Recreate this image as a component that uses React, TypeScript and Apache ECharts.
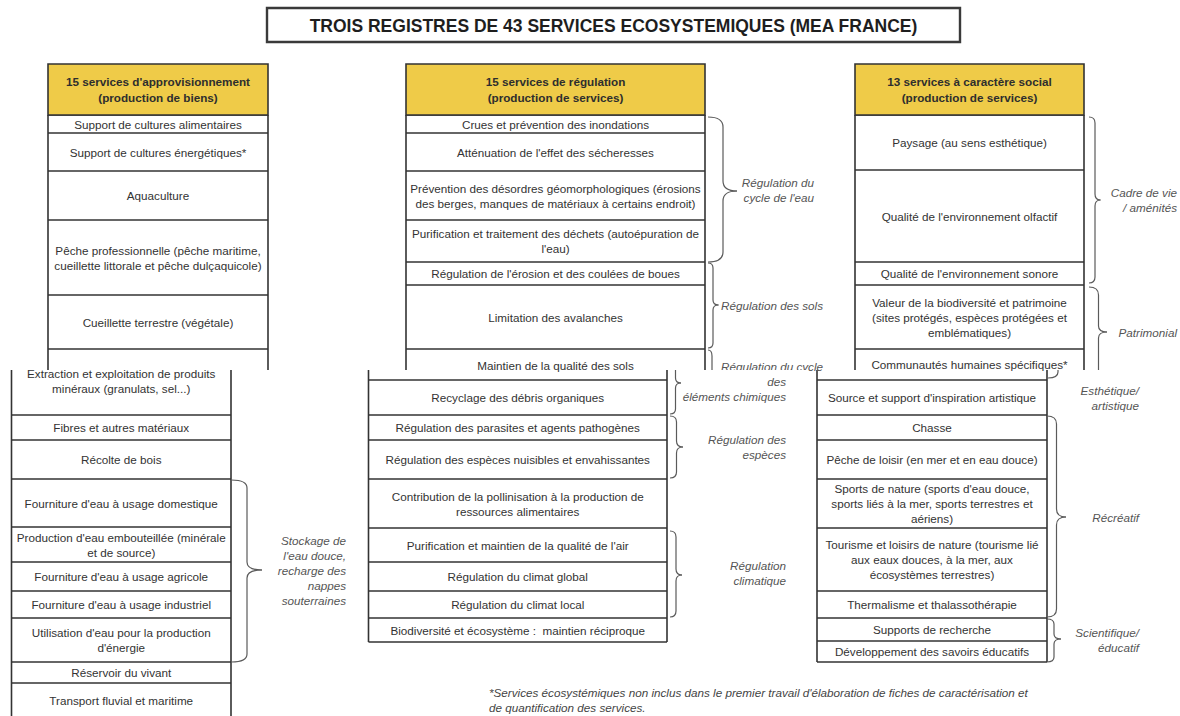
import React, { useEffect, useRef } from "react";
import * as echarts from "echarts";

// ---------- DATA (texts) ----------
const TITLE = "TROIS REGISTRES DE 43 SERVICES ECOSYSTEMIQUES (MEA FRANCE)";
const HEADERS = [
  "15 services d'approvisionnement\n(production de biens)",
  "15 services de régulation\n(production de services)",
  "13 services à caractère social\n(production de services)",
];
const APPRO_TOP = [
  "Support de cultures alimentaires",
  "Support de cultures énergétiques*",
  "Aquaculture",
  "Pêche professionnelle (pêche maritime,\ncueillette littorale et pêche dulçaquicole)",
  "Cueillette terrestre (végétale)",
  "",
];
const REGUL_TOP = [
  "Crues et prévention des inondations",
  "Atténuation de l'effet des sécheresses",
  "Prévention des désordres géomorphologiques (érosions\ndes berges, manques de matériaux à certains endroit)",
  "Purification et traitement des déchets (autoépuration de\nl'eau)",
  "Régulation de l'érosion et des coulées de boues",
  "Limitation des avalanches",
  "Maintien de la qualité des sols",
];
const SOCIAL_TOP = [
  "Paysage (au sens esthétique)",
  "Qualité de l'environnement olfactif",
  "Qualité de l'environnement sonore",
  "Valeur de la biodiversité et patrimoine\n(sites protégés, espèces protégées et\nemblématiques)",
  "Communautés humaines spécifiques*",
];
const APPRO_BOTTOM = [
  "Extraction et exploitation de produits\nminéraux (granulats, sel...)",
  "Fibres et autres matériaux",
  "Récolte de bois",
  "Fourniture d'eau à usage domestique",
  "Production d'eau embouteillée (minérale\net de source)",
  "Fourniture d'eau à usage agricole",
  "Fourniture d'eau à usage industriel",
  "Utilisation d'eau pour la production\nd'énergie",
  "Réservoir du vivant",
  "Transport fluvial et maritime",
];
const REGUL_BOTTOM = [
  "Recyclage des débris organiques",
  "Régulation des parasites et agents pathogènes",
  "Régulation des espèces nuisibles et envahissantes",
  "Contribution de la pollinisation à la production de\nressources alimentaires",
  "Purification et maintien de la qualité de l'air",
  "Régulation du climat global",
  "Régulation du climat local",
  "Biodiversité et écosystème :  maintien réciproque",
];
const SOCIAL_BOTTOM = [
  "Source et support d'inspiration artistique",
  "Chasse",
  "Pêche de loisir (en mer et en eau douce)",
  "Sports de nature (sports d'eau douce,\nsports liés à la mer, sports terrestres et\naériens)",
  "Tourisme et loisirs de nature (tourisme lié\naux eaux douces, à la mer, aux\nécosystèmes terrestres)",
  "Thermalisme et thalassothérapie",
  "Supports de recherche",
  "Développement des savoirs éducatifs",
];
const LABELS_TOP = {
  cycleEau: "Régulation du\ncycle de l'eau",
  sols: "Régulation des sols",
  cycleElem: "Régulation du cycle",
  cadre: "Cadre de vie\n/ aménités",
  patrimonial: "Patrimonial",
};
const LABELS_BOTTOM = {
  stockage: "Stockage de\nl'eau douce,\nrecharge des\nnappes\nsouterraines",
  elemDes: "des",
  elem: "éléments chimiques",
  especes: "Régulation des\nespèces",
  climat: "Régulation\nclimatique",
  esthetique: "Esthétique/\nartistique",
  recreatif: "Récréatif",
  scientifique: "Scientifique/\néducatif",
};
const FOOTNOTE =
  "*Services écosystémiques non inclus dans le premier travail d'élaboration de fiches de caractérisation et\nde quantification des services.";

// ---------- LAYOUT ----------
const FONT = '"Liberation Sans", Arial, Helvetica, sans-serif';
const FS = 11.7;
const CUT = 370;
const LINE = "#333333";
const BRACE = "#5a5a5a";
const YELLOW = "#EFCB48";
const TXT = "#333333";
const LAB = "#555555";

const L_TOP = {
  appro: { x0: 48, x1: 268, b: [115, 133, 171, 220, 295, 349, 392] },
  regul: { x0: 406, x1: 705, b: [115, 133, 171, 220, 262, 285, 349, 381] },
  social: { x0: 855, x1: 1084, b: [115, 170, 262, 285, 349, 380] },
};
const L_BOT = {
  appro: { x0: 11.5, x1: 231, b: [347, 415, 440, 479, 527, 562, 591, 618, 662, 683, 717], ext: 0 },
  regul: { x0: 368.5, x1: 667, b: [380, 415, 440, 479, 528, 562, 591, 618, 642], ext: 345 },
  social: { x0: 817, x1: 1047, b: [380, 415, 440, 479, 528, 591, 618, 641, 662], ext: 345 },
};

function ln(x1: number, y1: number, x2: number, y2: number, color = LINE, w = 1.6): any {
  return { type: "line", silent: true, shape: { x1, y1, x2, y2 }, style: { stroke: color, lineWidth: w } };
}

function txt(text: string, x: number, y: number, o: any = {}): any {
  const align = o.align || "center";
  return {
    type: "text",
    silent: true,
    style: {
      text,
      x,
      y,
      fill: o.fill || TXT,
      fontSize: o.size || FS,
      fontFamily: FONT,
      fontWeight: o.weight || "normal",
      fontStyle: o.style || "normal",
      lineHeight: o.lh || 15,
      align,
      textAlign: align,
      verticalAlign: "middle",
      textVerticalAlign: "middle",
    },
  };
}

function table(x0: number, x1: number, b: number[], texts: string[], opts: any = {}): any[] {
  const els: any[] = [];
  const cut = opts.cut ?? 10000;
  const top = opts.ext ? opts.ext : b[0];
  const bottom = Math.min(b[b.length - 1], cut);
  els.push({ type: "rect", silent: true, shape: { x: x0, y: top, width: x1 - x0, height: bottom - top }, style: { fill: "#ffffff" } });
  texts.forEach((t, i) => {
    if (!t) return;
    const cy = (b[i] + b[i + 1]) / 2;
    els.push(txt(t, (x0 + x1) / 2, cy));
  });
  b.forEach((y) => {
    if (y <= cut) els.push(ln(x0, y, x1, y));
  });
  els.push(ln(x0, top, x0, bottom));
  els.push(ln(x1, top, x1, bottom));
  return els;
}

function header(x0: number, x1: number, text: string): any[] {
  return [
    { type: "rect", silent: true, shape: { x: x0, y: 64, width: x1 - x0, height: 51 }, style: { fill: YELLOW, stroke: LINE, lineWidth: 1.6 } },
    txt(text, (x0 + x1) / 2, 89.5, { weight: "bold", lh: 16, fill: "#2e2e2e" }),
  ];
}

function bez(x1: number, y1: number, cx: number, cy: number, x2: number, y2: number): any {
  return { type: "bezierCurve", silent: true, shape: { x1, y1, cpx1: cx, cpy1: cy, x2, y2 }, style: { stroke: BRACE, lineWidth: 1.2, fill: "none" } };
}

// brace: x0 = curl ends, xm = spine, xt = tip; y0 top, ym tip, y1 bottom
function brace(x0: number, xm: number, xt: number, y0: number, ym: number, y1: number, r = 6): any[] {
  return [
    bez(x0, y0, xm, y0, xm, y0 + r),
    ln(xm, y0 + r, xm, ym - r, BRACE, 1.2),
    bez(xm, ym - r, xm, ym, xt, ym),
    bez(xt, ym, xm, ym, xm, ym + r),
    ln(xm, ym + r, xm, y1 - r, BRACE, 1.2),
    bez(xm, y1 - r, xm, y1, x0, y1),
  ];
}

function lab(text: string, x: number, y: number, align = "center"): any {
  return txt(text, x, y, { style: "italic", fill: LAB, align, lh: 15 });
}

function buildElements(): any[] {
  const els: any[] = [];
  // ----- bottom screenshot (drawn first, covered above CUT) -----
  els.push({ type: "rect", silent: true, shape: { x: 0, y: 0, width: 1180, height: 716 }, style: { fill: "#ffffff" } });
  els.push(...table(L_BOT.appro.x0, L_BOT.appro.x1, L_BOT.appro.b, APPRO_BOTTOM));
  els.push(...table(L_BOT.regul.x0, L_BOT.regul.x1, L_BOT.regul.b, REGUL_BOTTOM, { ext: L_BOT.regul.ext }));
  els.push(...table(L_BOT.social.x0, L_BOT.social.x1, L_BOT.social.b, SOCIAL_BOTTOM, { ext: L_BOT.social.ext }));

  els.push(...brace(231.5, 247, 262, 480, 570, 662, 8));
  els.push(lab(LABELS_BOTTOM.stockage, 346, 570, "right"));

  els.push(...brace(670, 675.5, 681, 360, 383, 414, 5));
  els.push(lab(LABELS_BOTTOM.elemDes, 786, 381, "right"));
  els.push(lab(LABELS_BOTTOM.elem, 786, 396, "right"));
  els.push(...brace(670, 676.5, 683, 416, 447, 478, 6));
  els.push(lab(LABELS_BOTTOM.especes, 786, 446.5, "right"));
  els.push(...brace(670, 676, 682, 531, 575, 617, 6));
  els.push(lab(LABELS_BOTTOM.climat, 786, 572.5, "right"));

  // end of the "Patrimonial" brace
  els.push(ln(1058, 360, 1058, 372, BRACE, 1.2));
  els.push(bez(1058, 372, 1058, 378, 1048, 378));
  els.push(lab(LABELS_BOTTOM.esthetique, 1139, 397.5, "right"));
  els.push(...brace(1047, 1056.5, 1066, 416, 517, 617, 8));
  els.push(lab(LABELS_BOTTOM.recreatif, 1139, 517, "right"));
  els.push(...brace(1047, 1054, 1061, 619, 639, 662, 5));
  els.push(lab(LABELS_BOTTOM.scientifique, 1139, 639.5, "right"));

  els.push({
    type: "text",
    silent: true,
    style: {
      text: FOOTNOTE,
      x: 489,
      y: 684.5,
      fill: "#444444",
      fontSize: FS,
      fontFamily: FONT,
      fontStyle: "italic",
      lineHeight: 15,
      align: "left",
      textAlign: "left",
      verticalAlign: "top",
      textVerticalAlign: "top",
    },
  });

  // ----- cover above the cut -----
  els.push({ type: "rect", silent: true, shape: { x: 0, y: 0, width: 1180, height: CUT }, style: { fill: "#ffffff" } });

  // ----- top screenshot -----
  els.push({ type: "rect", silent: true, shape: { x: 267, y: 8, width: 693, height: 34 }, style: { fill: "#ffffff", stroke: "#3a3a3a", lineWidth: 2.4 } });
  els.push(txt(TITLE, 613.5, 25.5, { weight: "bold", size: 17.5, fill: "#1e1e1e" }));

  els.push(...table(L_TOP.appro.x0, L_TOP.appro.x1, L_TOP.appro.b, APPRO_TOP, { cut: CUT }));
  els.push(...header(L_TOP.appro.x0, L_TOP.appro.x1, HEADERS[0]));
  els.push(...table(L_TOP.regul.x0, L_TOP.regul.x1, L_TOP.regul.b, REGUL_TOP, { cut: CUT }));
  els.push(...header(L_TOP.regul.x0, L_TOP.regul.x1, HEADERS[1]));
  els.push(...table(L_TOP.social.x0, L_TOP.social.x1, L_TOP.social.b, SOCIAL_TOP, { cut: CUT }));
  els.push(...header(L_TOP.social.x0, L_TOP.social.x1, HEADERS[2]));

  els.push(...brace(708, 723, 737, 117, 191, 262, 10));
  els.push(lab(LABELS_TOP.cycleEau, 814, 189.5, "right"));
  els.push(...brace(708, 713, 718.5, 263, 305, 348, 5));
  els.push(lab(LABELS_TOP.sols, 721, 305, "left"));
  els.push(bez(708, 350, 712, 350, 712, 356));
  els.push(ln(712, 356, 712, CUT, BRACE, 1.2));
  els.push(lab(LABELS_TOP.cycleElem, 721, 366, "left"));

  els.push(...brace(1089, 1095, 1100.5, 117, 200, 283, 6));
  els.push(lab(LABELS_TOP.cadre, 1177, 200, "right"));
  els.push(bez(1089, 287, 1098.5, 287, 1098.5, 295));
  els.push(ln(1098.5, 295, 1098.5, 326, BRACE, 1.2));
  els.push(bez(1098.5, 326, 1098.5, 332, 1107, 332));
  els.push(bez(1107, 332, 1098.5, 332, 1098.5, 338));
  els.push(ln(1098.5, 338, 1098.5, CUT, BRACE, 1.2));
  els.push(lab(LABELS_TOP.patrimonial, 1177, 332, "right"));

  // trim anything of the top part reaching under the cut
  els.push({ type: "rect", silent: true, shape: { x: 718, y: CUT, width: 90, height: 4 }, style: { fill: "#ffffff" } });
  return els;
}

export default function App() {
  const ref = useRef<HTMLDivElement>(null);
  useEffect(() => {
    if (!ref.current) return;
    const chart = echarts.init(ref.current, undefined, { renderer: "svg" });
    chart.setOption({
      animation: false,
      backgroundColor: "#ffffff",
      graphic: { elements: buildElements() },
    });
    return () => chart.dispose();
  }, []);
  return (
    <div
      ref={ref}
      style={{ position: "fixed", left: 0, top: 0, width: 1180, height: 716, background: "#fff" }}
    />
  );
}
